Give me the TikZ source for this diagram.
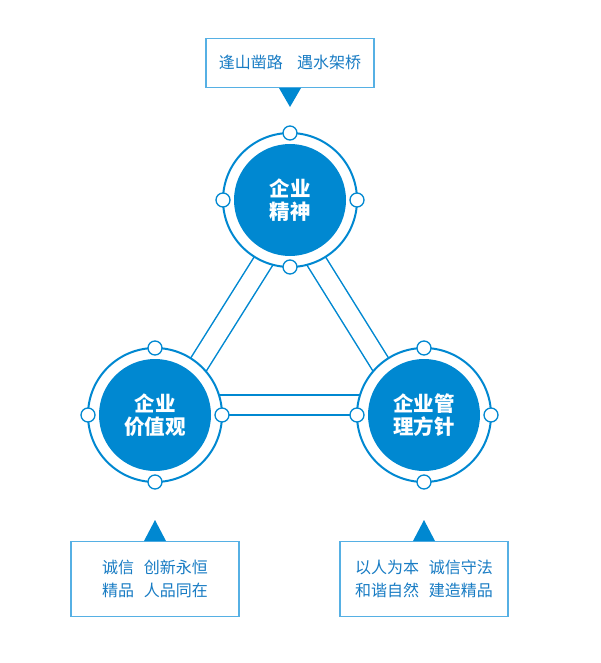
\documentclass[tikz,border=0pt]{standalone}
\usepackage{fontspec}
\setmainfont{Noto Sans CJK SC}
\usepackage{tikz}
\usetikzlibrary{calc, positioning, backgrounds}
\definecolor{mainblue}{RGB}{0,136,209}
\definecolor{lineblue}{RGB}{86,176,228}
\definecolor{textblue}{RGB}{24,124,196}
\tikzset{ring/.style={circle, draw=mainblue, line width=2pt, fill=white, minimum size=134pt, inner sep=0pt, outer sep=0pt}}
\tikzset{core/.style={circle, fill=mainblue, text=white, minimum size=112pt, inner sep=0pt, align=center, font=\fontsize{20.5}{23}\selectfont\bfseries}}
\tikzset{dot/.style={circle, draw=mainblue, line width=1.3pt, fill=white, minimum size=14pt, inner sep=0pt}}
\tikzset{bar/.style={draw=mainblue, line width=1.5pt, double=white, double distance=18.5pt}}
\tikzset{note/.style={draw=lineblue, line width=1.4pt, fill=white, text=textblue, minimum width=168pt, align=center, font=\fontsize{16}{23}\selectfont}}

\begin{document}
\begin{tikzpicture}[x=1pt, y=-1pt]
\useasboundingbox (0,0) rectangle (600,663);
\node[ring] (spirit) at (290,200) {};
\node[ring] (values) at (155,415) {};
\node[ring] (policy) at (424,415) {};
\node[core] (spirittext) at (spirit) {企业\\精神};
\node[core] (valuestext) at (values) {企业\\价值观};
\node[core] (policytext) at (policy) {企业管\\理方针};
\foreach \n in {spirit, values, policy}
  \foreach \a in {0, 90, 180, 270}
    \node[dot] (\n-\a) at (\n.\a) {};
\begin{scope}[on background layer]
\draw[bar] ($(spirit.center)!10pt!90:(values.center)$) -- ($(values.center)!10pt!-90:(spirit.center)$);
\draw[bar] ($(spirit.center)!10pt!-90:(policy.center)$) -- ($(policy.center)!10pt!90:(spirit.center)$);
\draw[bar] ($(values.center)!10pt!90:(policy.center)$) -- ($(policy.center)!10pt!-90:(values.center)$);
\end{scope}
\node[note, minimum height=49pt, above=45pt of spirit] (motto) {逢山凿路\hspace{0.9em}遇水架桥};
\node[note, minimum height=75pt, below=59pt of values] (valuesnote) {诚信\hspace{0.6em}创新永恒\\精品\hspace{0.6em}人品同在};
\node[note, minimum height=75pt, below=59pt of policy] (policynote) {以人为本\hspace{0.6em}诚信守法\\和谐自然\hspace{0.6em}建造精品};
\fill[mainblue] ($(motto.south)+(-11,0)$) -- ++(22,0) -- ++(-11,19) -- cycle;
\fill[mainblue] ($(valuesnote.north)+(-11,0)$) -- ++(22,0) -- ++(-11,-21) -- cycle;
\fill[mainblue] ($(policynote.north)+(-11,0)$) -- ++(22,0) -- ++(-11,-21) -- cycle;
\end{tikzpicture}
\end{document}
